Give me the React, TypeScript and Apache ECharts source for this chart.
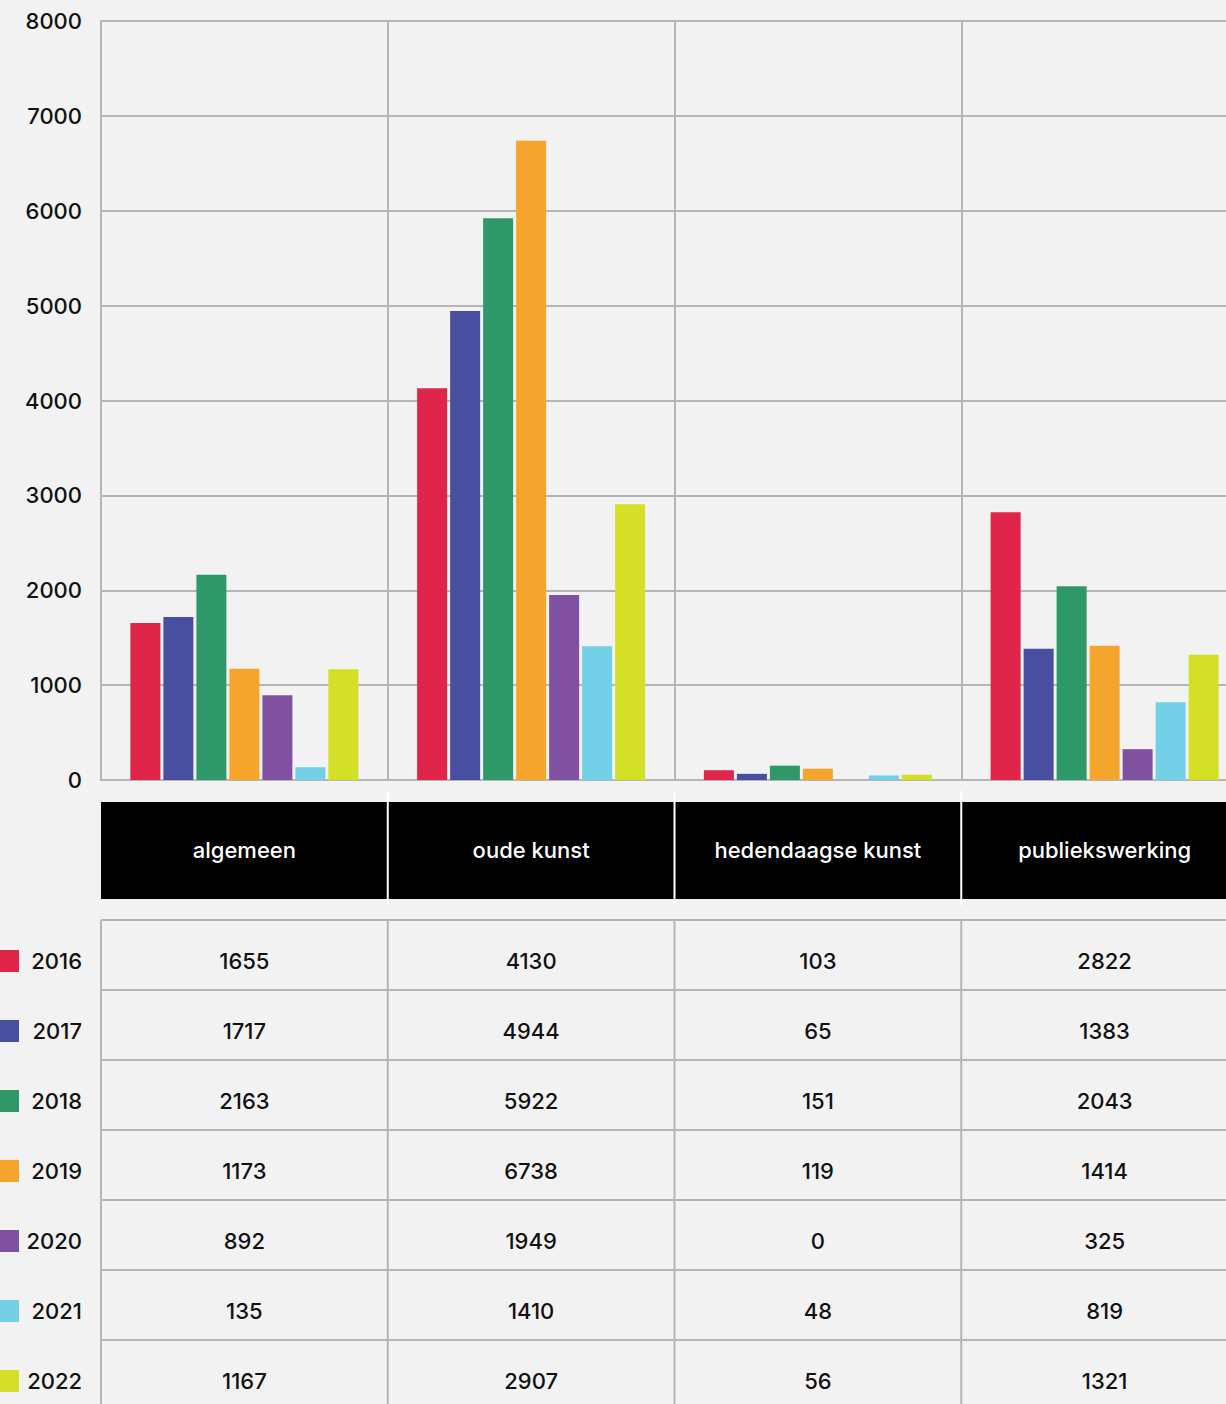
import React, { useEffect, useRef } from "react";
import * as echarts from "echarts";

const categories = ["algemeen", "oude kunst", "hedendaagse kunst", "publiekswerking"];
const years = ["2016", "2017", "2018", "2019", "2020", "2021", "2022"];
const v2016 = [1655, 4130, 103, 2822];
const v2017 = [1717, 4944, 65, 1383];
const v2018 = [2163, 5922, 151, 2043];
const v2019 = [1173, 6738, 119, 1414];
const v2020 = [892, 1949, 0, 325];
const v2021 = [135, 1410, 48, 819];
const v2022 = [1167, 2907, 56, 1321];
const seriesValues = [v2016, v2017, v2018, v2019, v2020, v2021, v2022];
const colors = ["#df2549", "#484ea0", "#2e9868", "#f5a42c", "#8051a0", "#72cfe6", "#d4df27"];
const yMin = 0;
const yMax = 8000;
const yInterval = 1000;

const FONT = "Inter, 'Noto Sans', sans-serif";
const GRID_COLOR = "#b5b5b5";

export default function App() {
  const ref = useRef<HTMLDivElement>(null);
  useEffect(() => {
    if (!ref.current) return;
    const chart = echarts.init(ref.current, null, { renderer: "svg" });
    chart.setOption({
      animation: false,
      backgroundColor: "#f2f2f2",
      grid: { left: 101, right: 0, top: 21, height: 759 },
      xAxis: {
        type: "category",
        data: categories,
        axisLine: { show: true, lineStyle: { color: GRID_COLOR, width: 2 } },
        axisTick: { show: false },
        axisLabel: { show: false },
        splitLine: { show: true, lineStyle: { color: GRID_COLOR, width: 2 } },
      },
      yAxis: {
        type: "value",
        min: yMin,
        max: yMax,
        interval: yInterval,
        axisLine: { show: true, lineStyle: { color: GRID_COLOR, width: 2 } },
        axisTick: { show: false },
        axisLabel: {
          margin: 19,
          color: "#111",
          fontSize: 22,
          fontWeight: 500,
          fontFamily: FONT,
          formatter: (v: number) => String(v),
        },
        splitLine: { show: true, lineStyle: { color: GRID_COLOR, width: 2 } },
      },
      series: years.map((y, i) => ({
        name: y,
        type: "bar",
        data: seriesValues[i],
        barWidth: 30,
        barGap: "10%",
        itemStyle: { color: colors[i] },
      })),
    });

    const centers = categories.map((c) => chart.convertToPixel({ xAxisIndex: 0 }, c) as number);
    const band = centers[1] - centers[0];
    const left = centers[0] - band / 2;
    const right = centers[centers.length - 1] + band / 2;
    const headerTop = 802;
    const headerH = 97;
    const tableTop = 920;
    const rowH = 70;
    const bottom = 1404;
    const els: any[] = [];
    els.push({
      type: "rect",
      shape: { x: left, y: headerTop, width: right - left, height: headerH },
      style: { fill: "#000" },
    });
    for (let i = 1; i < categories.length; i++) {
      const x = left + band * i;
      els.push({
        type: "line",
        shape: { x1: x, y1: 791, x2: x, y2: 905 },
        style: { stroke: "#ffffff", lineWidth: 2 },
      });
    }
    categories.forEach((c, i) => {
      els.push({
        type: "text",
        style: {
          text: c,
          x: centers[i],
          y: headerTop + headerH / 2 - 1,
          fill: "#fff",
          font: `500 22px ${FONT}`,
          textAlign: "center",
          textVerticalAlign: "middle",
        },
      });
    });
    for (let r = 0; r < years.length; r++) {
      const y = tableTop + r * rowH;
      els.push({
        type: "line",
        shape: { x1: left, y1: y, x2: right, y2: y },
        style: { stroke: GRID_COLOR, lineWidth: 2 },
      });
    }
    for (let i = 0; i < categories.length; i++) {
      const x = left + band * i;
      els.push({
        type: "line",
        shape: { x1: x, y1: tableTop, x2: x, y2: bottom },
        style: { stroke: GRID_COLOR, lineWidth: 2 },
      });
    }
    years.forEach((yr, r) => {
      const cy = tableTop + r * rowH + 41;
      els.push({
        type: "rect",
        shape: { x: 0, y: cy - 11, width: 19, height: 22 },
        style: { fill: colors[r] },
      });
      els.push({
        type: "text",
        style: {
          text: yr,
          x: 82,
          y: cy,
          fill: "#111",
          font: `500 22px ${FONT}`,
          textAlign: "right",
          textVerticalAlign: "middle",
        },
      });
      seriesValues[r].forEach((v, i) => {
        els.push({
          type: "text",
          style: {
            text: String(v),
            x: centers[i],
            y: cy,
            fill: "#111",
            font: `500 22px ${FONT}`,
            textAlign: "center",
            textVerticalAlign: "middle",
          },
        });
      });
    });
    chart.setOption({ graphic: els });
    return () => chart.dispose();
  }, []);
  return (
    <div
      style={{
        position: "absolute",
        left: 0,
        top: 0,
        width: 1226,
        height: 1404,
        overflow: "hidden",
        background: "#f2f2f2",
      }}
    >
      <div ref={ref} style={{ width: 1248, height: 1404 }} />
    </div>
  );
}
